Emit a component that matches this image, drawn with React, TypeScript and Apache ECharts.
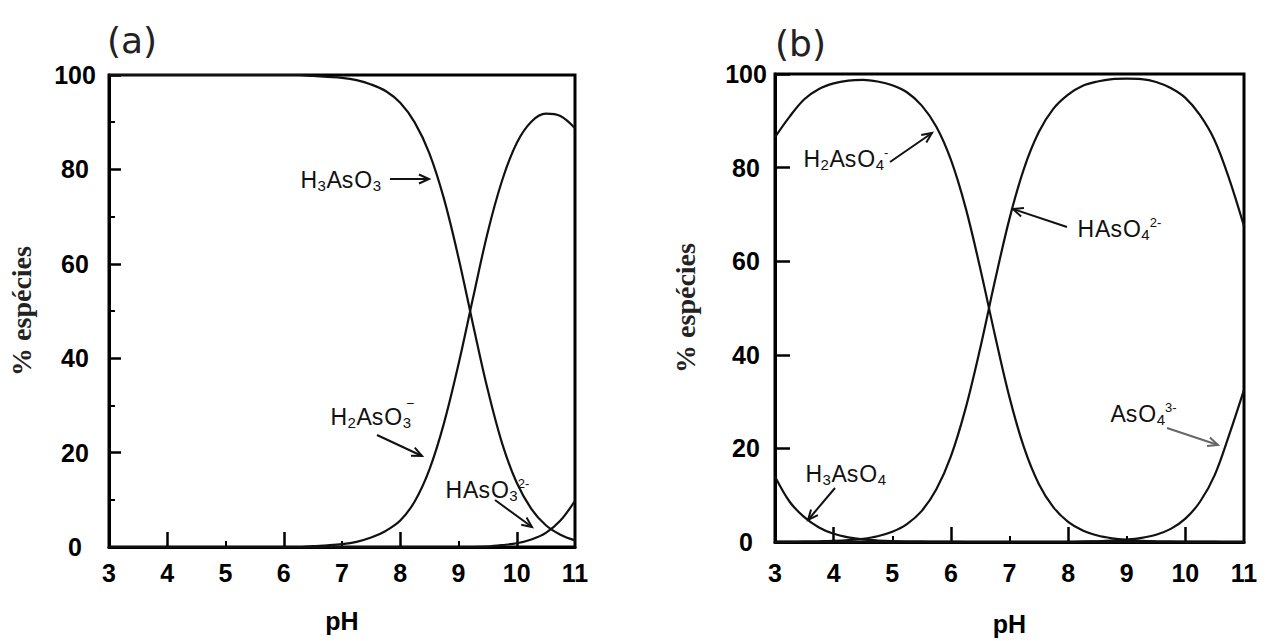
import React, { useEffect, useRef } from "react";
import * as echarts from "echarts";

// pH grid shared by both panels
const PH = [3, 3.25, 3.5, 3.75, 4, 4.25, 4.5, 4.75, 5, 5.25, 5.5, 5.75, 6, 6.25, 6.5, 6.75, 7, 7.25, 7.5, 7.75, 8, 8.25, 8.5, 8.75, 9, 9.25, 9.5, 9.75, 10, 10.25, 10.5, 10.75, 11];

// Panel (a): As(III) species, %
const H3ASO3 = [100, 100, 100, 100, 100, 100, 100, 100, 100, 100, 100, 100, 100, 100, 99.8, 99.6, 99.4, 98.9, 98.0, 96.6, 94.1, 89.9, 83.4, 73.8, 61.3, 47.1, 33.4, 21.9, 13.6, 8.1, 4.6, 2.6, 1.4];
const H2ASO3 = [0, 0, 0, 0, 0, 0, 0, 0, 0, 0, 0, 0, 0, 0, 0.2, 0.35, 0.6, 1.1, 2.0, 3.4, 5.6, 9.7, 16.4, 26.2, 38.7, 52.8, 66.6, 77.7, 85.6, 90.1, 91.8, 91.3, 88.7];
const HASO3 = [0, 0, 0, 0, 0, 0, 0, 0, 0, 0, 0, 0, 0, 0, 0, 0, 0, 0, 0, 0, 0, 0, 0, 0, 0, 0, 0.1, 0.4, 0.8, 1.6, 3.0, 5.6, 9.8];

// Panel (b): As(V) species, %
const H3ASO4 = [14, 8.6, 5.3, 3.1, 1.75, 1.0, 0.56, 0.32, 0.18, 0.1, 0.06, 0.03, 0.02, 0, 0, 0, 0, 0, 0, 0, 0, 0, 0, 0, 0, 0, 0, 0, 0, 0, 0, 0, 0];
const H2ASO4 = [86.5, 90.9, 94.6, 96.8, 98.0, 98.6, 98.75, 98.4, 97.6, 96.1, 93.3, 88.8, 81.7, 71.5, 58.5, 44.3, 30.9, 20.1, 12.4, 7.4, 4.3, 2.45, 1.39, 0.79, 0.44, 0.25, 0.14, 0.08, 0.04, 0.02, 0.01, 0, 0];
const HASO4 = [0.02, 0.04, 0.07, 0.12, 0.22, 0.39, 0.7, 1.24, 2.19, 3.82, 6.6, 11.2, 18.3, 28.5, 41.4, 55.7, 69.1, 79.9, 87.6, 92.6, 95.6, 97.5, 98.4, 98.9, 99.0, 98.9, 98.3, 97.0, 94.9, 91.2, 85.8, 77.5, 67.5];
const ASO4 = [0, 0, 0, 0, 0, 0, 0, 0, 0, 0, 0, 0, 0, 0, 0, 0, 0, 0, 0, 0, 0, 0.1, 0.16, 0.28, 0.5, 0.88, 1.55, 2.8, 5.0, 8.6, 14.3, 23.0, 32.5];

// Axis ticks / labels
const X_LABELS = [3, 4, 5, 6, 7, 8, 9, 10, 11];
const X_MAJOR_TICKS = [4, 6, 8, 10];
const X_MINOR_TICKS = [5, 7, 9];
const Y_LABELS = [0, 20, 40, 60, 80, 100];

const SANS = "'Liberation Sans', Arial, Helvetica, sans-serif";
const SERIF = "'Liberation Serif', 'Times New Roman', serif";
const INK = "#111";

const rich = {
  m: { fontSize: 23, fontFamily: SANS, fill: INK, lineHeight: 26, padding: [0, 0.5], verticalAlign: "middle" },
  b: { fontSize: 15, fontFamily: SANS, fill: INK, lineHeight: 16, verticalAlign: "bottom" },
  p: { fontSize: 13, fontFamily: SANS, fill: INK, lineHeight: 4, verticalAlign: "top" },
};

function label(x: number, y: number, text: string) {
  return {
    type: "text",
    x,
    y,
    z: 20,
    style: { text, rich, align: "left", verticalAlign: "middle", fontSize: 23, fontFamily: SANS, fill: INK, lineHeight: 26 },
  };
}

function arrow(x1: number, y1: number, x2: number, y2: number, color = INK) {
  const ang = Math.atan2(y2 - y1, x2 - x1);
  const L = 11;
  const a = 0.42;
  return [
    { type: "line", z: 20, shape: { x1, y1, x2, y2 }, style: { stroke: color, lineWidth: 2 } },
    {
      type: "polyline",
      z: 20,
      shape: {
        points: [
          [x2 - L * Math.cos(ang - a), y2 - L * Math.sin(ang - a)],
          [x2, y2],
          [x2 - L * Math.cos(ang + a), y2 - L * Math.sin(ang + a)],
        ],
      },
      style: { stroke: color, lineWidth: 2, fill: null },
    },
  ];
}

const tickText = { fontFamily: SANS, fontWeight: "bold", fontSize: 25, color: "#000" };

function xAxes(gridIndex: number, margin: number, nameGap: number) {
  return [
    {
      type: "value",
      gridIndex,
      position: "bottom",
      min: 3,
      max: 11,
      interval: 1,
      axisLine: { show: true, onZero: false, lineStyle: { color: "#000", width: 3 } },
      axisTick: { show: true, inside: true, length: 15, customValues: X_MAJOR_TICKS, lineStyle: { color: "#000", width: 2.5 } },
      axisLabel: { ...tickText, margin, customValues: X_LABELS },
      splitLine: { show: false },
      name: "pH",
      nameLocation: "middle",
      nameGap,
      nameTextStyle: { fontFamily: SANS, fontWeight: "bold", fontSize: 25, color: "#000" },
    },
    {
      type: "value",
      gridIndex,
      position: "bottom",
      min: 3,
      max: 11,
      interval: 1,
      axisLine: { show: false, onZero: false },
      axisTick: { show: true, inside: true, length: 6, customValues: X_MINOR_TICKS, lineStyle: { color: "#000", width: 2 } },
      axisLabel: { show: false },
      splitLine: { show: false },
    },
  ];
}

function yAxis(gridIndex: number, margin: number, nameGap: number, tickLen: number, minor: boolean) {
  return {
    type: "value",
    gridIndex,
    min: 0,
    max: 100,
    interval: 20,
    axisLine: { show: true, onZero: false, lineStyle: { color: "#000", width: 3 } },
    axisTick: { show: true, inside: true, length: tickLen, lineStyle: { color: "#000", width: 2.5 } },
    minorTick: { show: minor, splitNumber: 2, length: 6, lineStyle: { color: "#000", width: 2 } },
    axisLabel: { ...tickText, align: "center", margin, customValues: Y_LABELS },
    splitLine: { show: false },
    minorSplitLine: { show: false },
    name: "% espécies",
    nameLocation: "middle",
    nameGap,
    nameTextStyle: { fontFamily: SERIF, fontWeight: "bold", fontSize: 28, color: "#222" },
  };
}

function line(name: string, values: number[], xAxisIndex: number, yAxisIndex: number) {
  return {
    type: "line",
    name,
    xAxisIndex,
    yAxisIndex,
    data: PH.map((p, i) => [p, values[i]]),
    showSymbol: false,
    symbol: "none",
    smooth: 0.35,
    lineStyle: { color: INK, width: 2.2 },
    z: 5,
  };
}

export default function App() {
  const ref = useRef<HTMLDivElement>(null);

  useEffect(() => {
    if (!ref.current) return;
    const chart = echarts.init(ref.current, undefined, { renderer: "svg", width: 1266, height: 641 });
    const graphic: any[] = [
      { type: "text", x: 107, y: 40, style: { text: "(a)", fontSize: 36, fontFamily: "'DejaVu Sans', sans-serif", fill: "#222", align: "left", verticalAlign: "middle" } },
      { type: "text", x: 775, y: 43, style: { text: "(b)", fontSize: 36, fontFamily: "'DejaVu Sans', sans-serif", fill: "#222", align: "left", verticalAlign: "middle" } },
      label(300, 180, "{m|H}{b|3}{m|As}{m|O}{b|3}"),
      ...arrow(390, 179, 429, 179),
      label(330, 417, "{m|H}{b|2}{m|As}{m|O}{b|3}"),
      { type: "text", x: 406, y: 403, z: 20, style: { text: "−", fontSize: 14, fontFamily: SANS, fill: INK, align: "left", verticalAlign: "middle" } },
      ...arrow(377, 435, 422, 456),
      label(445, 490, "{m|H}{m|As}{m|O}{b|3}{p|2-}"),
      ...arrow(495, 500, 532, 527),
      label(803, 158.5, "{m|H}{b|2}{m|As}{m|O}{b|4}{p|-}"),
      ...arrow(890, 162, 932, 133),
      label(1077, 228.5, "{m|H}{m|As}{m|O}{b|4}{p|2-}"),
      ...arrow(1067, 227, 1013, 209),
      label(1110, 413.5, "{m|As}{m|O}{b|4}{p|3-}"),
      ...arrow(1167, 428, 1218, 445, "#666"),
      label(805, 473.5, "{m|H}{b|3}{m|As}{m|O}{b|4}"),
      ...arrow(835, 488, 808, 520),
    ];

    chart.setOption({
      animation: false,
      backgroundColor: "#fff",
      grid: [
        { left: 109, top: 75, width: 466, height: 472, show: true, borderColor: "#000", borderWidth: 3, backgroundColor: "transparent" },
        { left: 775, top: 74, width: 469, height: 468, show: true, borderColor: "#000", borderWidth: 3, backgroundColor: "transparent" },
      ],
      xAxis: [...xAxes(0, 13, 61), ...xAxes(1, 18, 69)],
      yAxis: [yAxis(0, 34, 74, 12, true), yAxis(1, 29, 76, 15, false)],
      series: [
        line("H3AsO3", H3ASO3, 0, 0),
        line("H2AsO3-", H2ASO3, 0, 0),
        line("HAsO3 2-", HASO3, 0, 0),
        line("H3AsO4", H3ASO4, 2, 1),
        line("H2AsO4-", H2ASO4, 2, 1),
        line("HAsO4 2-", HASO4, 2, 1),
        line("AsO4 3-", ASO4, 2, 1),
      ],
      graphic,
    });
    return () => chart.dispose();
  }, []);

  return (
    <div
      ref={ref}
      style={{ position: "fixed", left: 0, top: 0, width: 1266, height: 641, background: "#fff" }}
    />
  );
}
